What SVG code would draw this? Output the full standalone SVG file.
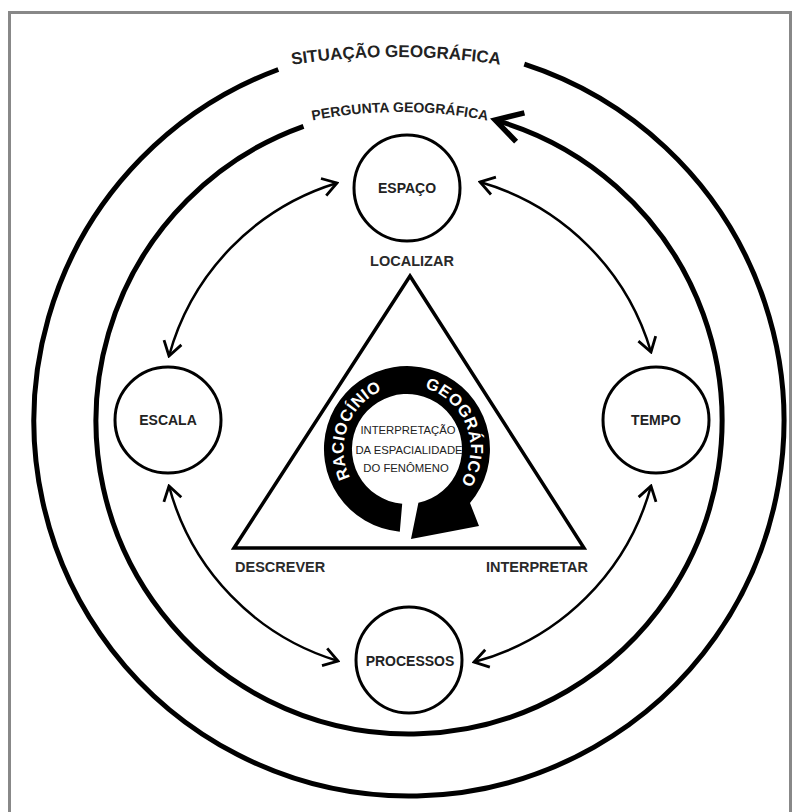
<svg xmlns="http://www.w3.org/2000/svg" width="800" height="812" viewBox="0 0 800 812">
<defs>
<style>
.ring{fill:none;stroke:#000;stroke-width:5}
.node{fill:#fff;stroke:#000;stroke-width:3}
.lbl{font-family:"Liberation Sans",Arial,sans-serif;font-weight:bold;font-size:14px;fill:#222;text-anchor:middle}
.verb{font-family:"Liberation Sans",Arial,sans-serif;font-weight:bold;font-size:14.5px;fill:#2a2a2a}
.title{font-family:"Liberation Sans",Arial,sans-serif;font-weight:bold;fill:#222;text-anchor:middle}
.conn{fill:none;stroke:#000;stroke-width:2.5}
.inner{font-family:"Liberation Sans",Arial,sans-serif;font-size:11.3px;fill:#222;text-anchor:middle}
.rtext{font-family:"Liberation Sans",Arial,sans-serif;font-weight:bold;font-size:16.5px;fill:#fff;text-anchor:middle;letter-spacing:0.5px}
</style>
<marker id="ah" viewBox="-18 -11 20 22" markerWidth="20" markerHeight="22" refX="0" refY="0" orient="auto-start-reverse" markerUnits="userSpaceOnUse">
<path d="M-14,-9 L0,0 L-14,9" fill="none" stroke="#000" stroke-width="2.8"/>
</marker>
<path id="tOuter" d="M46,150.8 A700,700 0 0 1 746,150.8"/>
<path id="tInner" d="M175,172.3 A450,450 0 0 1 625,172.3"/>
<path id="tRing" d="M407,512.5 A63.5,63.5 0 1 1 407,385.5 A63.5,63.5 0 1 1 407,512.5"/>
</defs>
<rect width="800" height="812" fill="#fff"/>
<path d="M9.5,812 V12.5 H790.5 V812" fill="none" stroke="#888" stroke-width="3"/>

<g id="situacao">
<path class="ring" d="M524.3,64.2 A375,375 0 1 1 278.3,69.5"/>
<text class="title" font-size="17"><textPath href="#tOuter" startOffset="50%">SITUAÇÃO GEOGRÁFICA</textPath></text>
</g>

<g id="pergunta">
<path class="ring" d="M495.3,120.1 A313,313 0 1 1 303.5,126.3"/>
<path d="M524.4,112.8 L495.3,120.1 L516.1,141.7" fill="none" stroke="#000" stroke-width="5.5" stroke-linejoin="miter"/>
<text class="title" font-size="14"><textPath href="#tInner" startOffset="50%">PERGUNTA GEOGRÁFICA</textPath></text>
</g>

<g id="connectors">
<path class="conn" marker-start="url(#ah)" marker-end="url(#ah)" d="M337,183 A250,250 0 0 0 169,356"/>
<path class="conn" marker-start="url(#ah)" marker-end="url(#ah)" d="M480,182 A250,250 0 0 1 651,352"/>
<path class="conn" marker-start="url(#ah)" marker-end="url(#ah)" d="M169,486 A250,250 0 0 0 338,661"/>
<path class="conn" marker-start="url(#ah)" marker-end="url(#ah)" d="M651,486 A250,250 0 0 1 474,662"/>
</g>

<g id="espaco">
<circle class="node" cx="407" cy="188" r="53"/>
<text class="lbl" x="407" y="193">ESPAÇO</text>
</g>
<g id="escala">
<circle class="node" cx="168" cy="420" r="53"/>
<text class="lbl" x="168" y="425">ESCALA</text>
</g>
<g id="tempo">
<circle class="node" cx="656" cy="420" r="53"/>
<text class="lbl" x="656" y="425">TEMPO</text>
</g>
<g id="processos">
<circle class="node" cx="409" cy="660" r="53"/>
<text class="lbl" x="410" y="666">PROCESSOS</text>
</g>

<g id="triangulo">
<path d="M410,276 L584,548 L234,548 Z" fill="#fff" stroke="#000" stroke-width="3.5" stroke-linejoin="miter"/>
<text class="verb" x="412" y="266" text-anchor="middle">LOCALIZAR</text>
<text class="verb" x="235" y="572">DESCREVER</text>
<text class="verb" x="588" y="572" text-anchor="end">INTERPRETAR</text>
</g>

<g id="raciocinio">
<path d="M399.8,531.7 A83,83 0 1 1 470,503 L479,526 L411,539 L418.4,502.8 A55,55 0 1 0 402.2,503.8 Z" fill="#000"/>
<text class="rtext"><textPath href="#tRing" startOffset="121.9">RACIOCÍNIO</textPath></text>
<text class="rtext"><textPath href="#tRing" startOffset="276">GEOGRÁFICO</textPath></text>
<text class="inner" x="408" y="434">INTERPRETAÇÃO</text>
<text class="inner" x="409" y="454">DA ESPACIALIDADE</text>
<text class="inner" x="406" y="472">DO FENÔMENO</text>
</g>
</svg>
